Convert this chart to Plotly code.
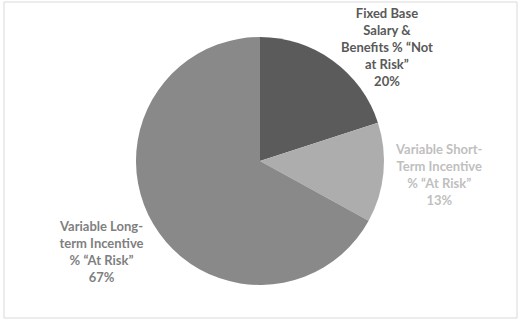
import plotly.graph_objects as go

categories = ["Fixed Base<br>Salary &<br>Benefits % “Not<br>at Risk”",
              "Variable Short-<br>Term Incentive<br>% “At Risk”",
              "Variable Long-<br>term Incentive<br>% “At Risk”"]
values = [20, 13, 67]
slice_colors = ["#5b5b5b", "#adadad", "#898989"]
label_colors = ["#595959", "#bfbfbf", "#7f7f7f"]
label_pos = [(387, 47), (439, 174), (101, 252)]

W, H = 521, 325
cx, cy, r = 260, 161, 124

fig = go.Figure(go.Pie(
    values=values, labels=categories, sort=False, direction="clockwise", rotation=0,
    marker=dict(colors=slice_colors, line=dict(width=0)),
    textinfo="none", hoverinfo="label+percent", showlegend=False,
    domain=dict(x=[(cx - r) / W, (cx + r) / W], y=[(H - cy - r) / H, (H - cy + r) / H]),
))

for lab, v, col, (x, y) in zip(categories, values, label_colors, label_pos):
    fig.add_annotation(x=x / W, y=1 - y / H, xref="paper", yref="paper",
                       xanchor="center", yanchor="middle",
                       text=f"<b>{lab}<br>{v}%</b>", showarrow=False, align="center",
                       font=dict(family="Lato", size=13, color=col))

fig.add_shape(type="rect", xref="paper", yref="paper", x0=4 / W, x1=517 / W, y0=1 - 318 / H, y1=1 - 2 / H,
              line=dict(color="#d9d9d9", width=1), fillcolor="rgba(0,0,0,0)")

fig.update_layout(width=W, height=H, margin=dict(l=0, r=0, t=0, b=0),
                  paper_bgcolor="white", plot_bgcolor="white")
fig.write_html("out.html")
